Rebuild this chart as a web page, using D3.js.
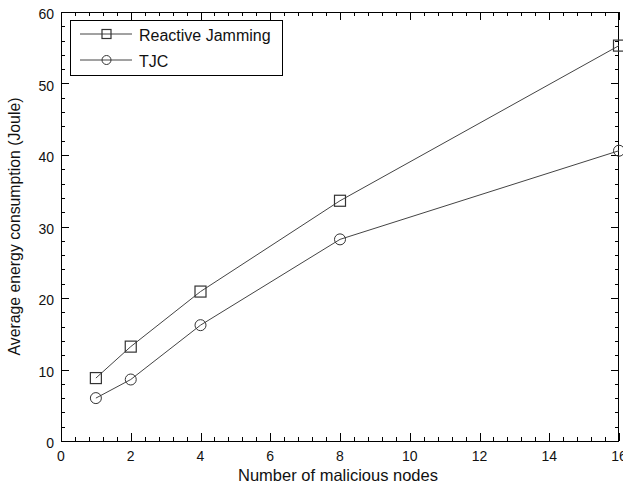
<!DOCTYPE html>
<html>
<head>
<meta charset="utf-8">
<script src="https://cdn.jsdelivr.net/npm/d3@7"></script>
<style>
  body { margin: 0; background: #fff; }
  text { font-family: "Liberation Sans", Arial, sans-serif; fill: #111; }
</style>
</head>
<body>
<div id="chart"></div>
<script>
// data
const nodesCount = [1, 2, 4, 8, 16];
const reactiveJamming = [8.8, 13.2, 20.9, 33.6, 55.3];
const tjc = [6.0, 8.6, 16.2, 28.2, 40.6];
const seriesNames = ['Reactive Jamming', 'TJC'];
const xTicks = [0, 2, 4, 6, 8, 10, 12, 14, 16];
const yTicks = [0, 10, 20, 30, 40, 50, 60];

const width = 623, height = 490;
const margin = {left: 61, right: 4, top: 12, bottom: 49};

const svg = d3.select('#chart').append('svg')
    .attr('width', width).attr('height', height);

const x = d3.scaleLinear().domain([0, 16]).range([margin.left, width - margin.right]);
const y = d3.scaleLinear().domain([0, 60]).range([height - margin.bottom, margin.top]);

const x0 = x.range()[0], x1 = x.range()[1];
const y0 = y.range()[0], y1 = y.range()[1];

// minor ticks (5 per major interval), pointing inward on all four sides
const xMinor = d3.range(0, 16.01, 0.4);
const yMinor = d3.range(0, 60.01, 2);
const g = svg.append('g').attr('stroke', '#000').attr('stroke-width', 1).attr('shape-rendering', 'crispEdges');

xMinor.forEach(v => {
    const len = xTicks.some(t => Math.abs(t - v) < 1e-6) ? 8 : 4;
    const px = Math.round(x(v)) + 0.5;
    g.append('line').attr('x1', px).attr('x2', px).attr('y1', y0).attr('y2', y0 - len);
    g.append('line').attr('x1', px).attr('x2', px).attr('y1', y1).attr('y2', y1 + len);
});
yMinor.forEach(v => {
    const len = yTicks.some(t => Math.abs(t - v) < 1e-6) ? 8 : 4;
    const py = Math.round(y(v)) + 0.5;
    g.append('line').attr('x1', x0).attr('x2', x0 + len).attr('y1', py).attr('y2', py);
    g.append('line').attr('x1', x1).attr('x2', x1 - len).attr('y1', py).attr('y2', py);
});

svg.append('rect')
    .attr('x', x0 + 0.5).attr('y', y1 + 0.5)
    .attr('width', x1 - x0 - 1).attr('height', y0 - y1)
    .attr('fill', 'none').attr('stroke', '#000').attr('shape-rendering', 'crispEdges');

// tick labels
svg.selectAll('.xl').data(xTicks).enter().append('text')
    .attr('x', d => x(d)).attr('y', y0 + 20)
    .attr('text-anchor', 'middle').attr('font-size', 14)
    .text(d => d);
svg.selectAll('.yl').data(yTicks).enter().append('text')
    .attr('x', x0 - 7).attr('y', d => y(d) + 7)
    .attr('text-anchor', 'end').attr('font-size', 14)
    .text(d => d);

// axis labels
svg.append('text')
    .attr('x', 338).attr('y', height - 9)
    .attr('text-anchor', 'middle').attr('font-size', 16.5)
    .text('Number of malicious nodes');
svg.append('text')
    .attr('transform', `translate(20,${(y0 + y1) / 2}) rotate(-90)`)
    .attr('text-anchor', 'middle').attr('font-size', 15.8)
    .text('Average energy consumption (Joule)');

// lines
const line = d3.line().x((d, i) => x(nodesCount[i])).y(d => y(d));
const lineColor = '#444';

[reactiveJamming, tjc].forEach((vals, k) => {
    svg.append('path').datum(vals)
        .attr('d', line).attr('fill', 'none')
        .attr('stroke', lineColor).attr('stroke-width', 1);
    const pts = svg.append('g');
    vals.forEach((v, i) => drawMarker(pts, k, x(nodesCount[i]), y(v), 11));
});

function drawMarker(sel, k, cx, cy, s) {
    if (k === 0) {
        sel.append('rect').attr('x', cx - s / 2).attr('y', cy - s / 2)
            .attr('width', s).attr('height', s)
            .attr('fill', 'none').attr('stroke', '#333').attr('stroke-width', 1.2);
    } else {
        sel.append('circle').attr('cx', cx).attr('cy', cy).attr('r', s / 2)
            .attr('fill', 'none').attr('stroke', '#333').attr('stroke-width', 1);
    }
}

// legend
const lg = svg.append('g');
lg.append('rect').attr('x', 70.5).attr('y', 20.5).attr('width', 212).attr('height', 55)
    .attr('fill', '#fff').attr('stroke', '#000').attr('shape-rendering', 'crispEdges');
seriesNames.forEach((name, k) => {
    const ly = 34 + k * 26;
    lg.append('line').attr('x1', 80).attr('x2', 132).attr('y1', ly).attr('y2', ly)
        .attr('stroke', lineColor);
    drawMarker(lg, k, 106.5, ly, 9);
    lg.append('text').attr('x', 139).attr('y', ly + 7).attr('font-size', 16).text(name);
});
</script>
</body>
</html>
